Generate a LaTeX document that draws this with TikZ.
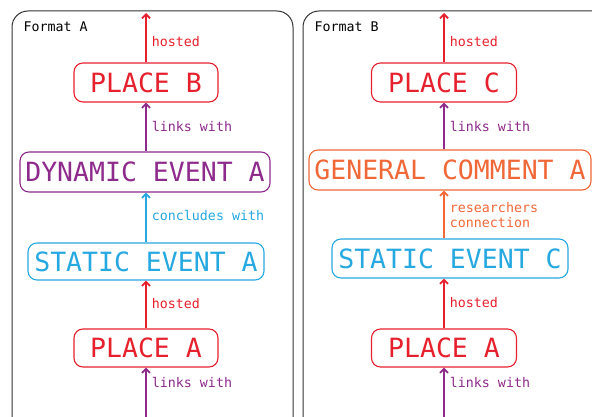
\documentclass[tikz,border=0pt]{standalone}
\usepackage{fontspec}
\setmonofont{DejaVu Sans Mono}
\usetikzlibrary{arrows.meta}

\definecolor{hostred}{RGB}{230,32,45}
\definecolor{linkpurple}{RGB}{142,42,140}
\definecolor{eventblue}{RGB}{38,168,224}
\definecolor{commentorange}{RGB}{240,104,56}

\tikzset{
  entity/.style={draw=#1, text=#1, fill=white, rounded corners=9pt, line width=1.1pt,
    font=\ttfamily\fontsize{26.5}{28}\selectfont, minimum height=39pt, inner sep=0pt},
  rel/.style={line width=1.9pt, -{Straight Barb[length=4pt,width=8pt]}},
  rellabel/.style={font=\ttfamily\fontsize{13.3}{15}\selectfont, anchor=west, xshift=3pt, inner sep=2pt},
  formatbox/.style={draw=black!80, line width=1pt, rounded corners=16pt}
}

\begin{document}
\begin{tikzpicture}[x=1pt,y=1pt]
    \clip (0,0) rectangle (592,416);

    % Frames of the two formats
    \draw[formatbox] (12,-20) rectangle (293,405);
    \draw[formatbox] (303,-20) rectangle (620,405);
    \node[anchor=west, font=\ttfamily\fontsize{13.3}{15}\selectfont] (titleA) at (20,389) {Format A};
    \node[anchor=west, font=\ttfamily\fontsize{13.3}{15}\selectfont] (titleB) at (311,389) {Format B};

    % Format A chain
    \node[entity=hostred, minimum width=144pt] (placeB) at (146,333.5) {PLACE B};
    \node[entity=linkpurple, minimum width=250pt, minimum height=40pt] (dynA) at (145,244) {DYNAMIC EVENT A};
    \node[entity=eventblue, minimum width=236pt, minimum height=37pt] (statA) at (146,154.5) {STATIC EVENT A};
    \node[entity=hostred, minimum width=144pt, minimum height=38pt] (placeA) at (146,68) {PLACE A};
    \coordinate (topA) at (146,403);
    \coordinate (botA) at (146,-5);

    \draw[rel, hostred] (placeB.north) -- (topA) node[rellabel, pos=0.42] {hosted};
    \draw[rel, linkpurple] (dynA.north -| placeB) -- (placeB.south) node[rellabel, pos=0.5] {links with};
    \draw[rel, eventblue] (statA.north) -- (dynA.south -| statA) node[rellabel, pos=0.55] {concludes with};
    \draw[rel, hostred] (placeA.north) -- (statA.south) node[rellabel, pos=0.53] {hosted};
    \draw[rel, linkpurple] (botA) -- (placeA.south) node[rellabel, pos=0.72] {links with};

    % Format B chain
    \node[entity=hostred, minimum width=145pt] (placeC) at (444,333.5) {PLACE C};
    \node[entity=commentorange, minimum width=282pt, minimum height=40pt] (commA) at (450,246) {GENERAL COMMENT A};
    \node[entity=eventblue, minimum width=236pt] (statC) at (450,157.5) {STATIC EVENT C};
    \node[entity=hostred, minimum width=145pt, minimum height=38pt] (placeA2) at (444,68) {PLACE A};
    \coordinate (topB) at (444,403);
    \coordinate (botB) at (444,-5);

    \draw[rel, hostred] (placeC.north) -- (topB) node[rellabel, pos=0.42] {hosted};
    \draw[rel, linkpurple] (commA.north -| placeC) -- (placeC.south) node[rellabel, pos=0.48] {links with};
    \draw[rel, commentorange] (statC.north -| placeC) -- (commA.south -| placeC)
        node[rellabel, pos=0.49, align=left] {researchers\\connection};
    \draw[rel, hostred] (placeA2.north) -- (statC.south -| placeA2) node[rellabel, pos=0.51] {hosted};
    \draw[rel, linkpurple] (botB) -- (placeA2.south) node[rellabel, pos=0.72] {links with};
\end{tikzpicture}
\end{document}
